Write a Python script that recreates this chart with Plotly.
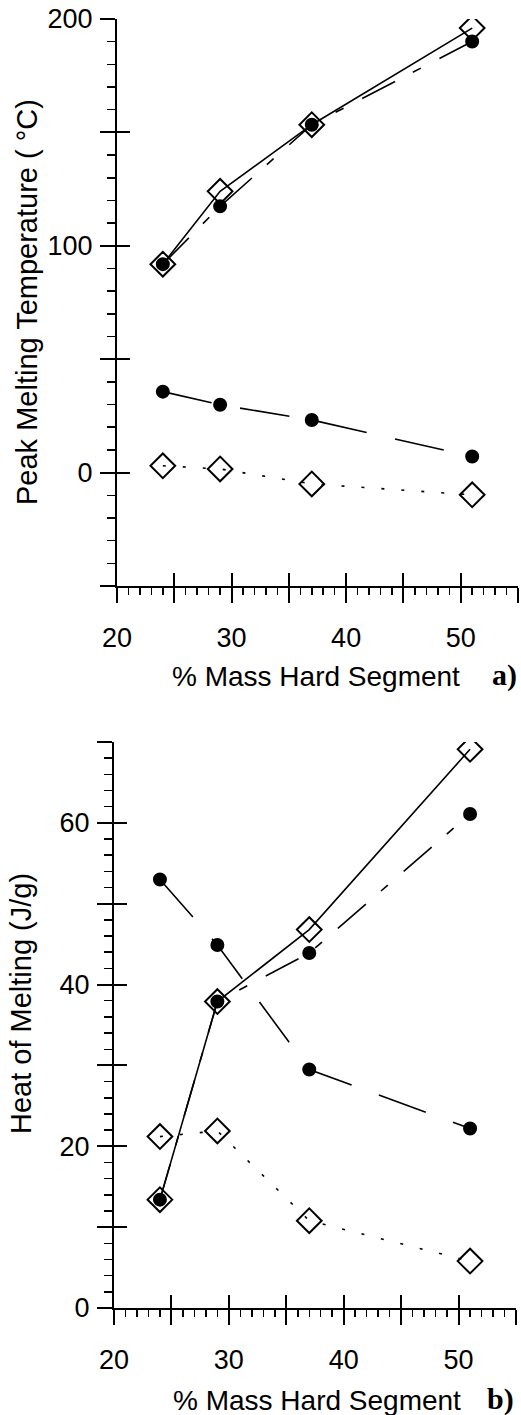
import plotly.graph_objects as go

# ---------------- data ----------------
mass_hs = [24, 29, 37, 51]

# panel a) Peak melting temperature (°C)
a_high_diamond = [91.9, 124.0, 153.4, 196.0]
a_high_circle = [91.9, 117.4, 153.4, 190.1]
a_low_circle = [35.7, 29.9, 23.2, 7.1]
a_low_diamond = [3.0, 1.6, -5.0, -9.8]

# panel b) Heat of melting (J/g)
b_rise_diamond = [13.4, 37.9, 46.8, 69.1]
b_rise_circle = [13.4, 37.9, 43.9, 61.1]
b_fall_circle = [53.0, 44.9, 29.5, 22.2]
b_low_diamond = [21.2, 21.9, 10.8, 5.8]

x_tickvals = [20, 25, 30, 35, 40, 45, 50, 55]
x_ticktext = ["20", "", "30", "", "40", "", "50", ""]
ya_tickvals = [-50, 0, 50, 100, 150, 200]
ya_ticktext = ["", "0", "", "100", "", "200"]
yb_tickvals = [0, 10, 20, 30, 40, 50, 60, 70]
yb_ticktext = ["0", "", "20", "", "40", "", "60", ""]

FONT = "Liberation Sans, Arial, Helvetica, sans-serif"
FS = 27
BLACK = "#000000"
LW = 1.6

DASHDOT = "37px,20px,9px,21px"
LONGDASH = "50px,29px"
DOTTED = "3px,17px"

fig = go.Figure()


def add(x, y, xa, ya, symbol, size, dash):
    fig.add_trace(go.Scatter(
        x=x, y=y, xaxis=xa, yaxis=ya, mode="lines+markers",
        line=dict(color=BLACK, width=LW, dash=dash),
        marker=dict(symbol=symbol, size=size, color=BLACK,
                    line=dict(color=BLACK, width=2)),
        showlegend=False, hoverinfo="skip"))


# panel a
add(mass_hs, a_high_circle, "x", "y", "circle", 12, DASHDOT)
add(mass_hs, a_high_diamond, "x", "y", "diamond-open", 19, "solid")
add(mass_hs, a_low_circle, "x", "y", "circle", 12, LONGDASH)
add(mass_hs, a_low_diamond, "x", "y", "diamond-open", 19, DOTTED)
# panel b
add(mass_hs, b_rise_circle, "x2", "y2", "circle", 12, DASHDOT)
add(mass_hs, b_rise_diamond, "x2", "y2", "diamond-open", 19, "solid")
add(mass_hs, b_fall_circle, "x2", "y2", "circle", 12, LONGDASH)
add(mass_hs, b_low_diamond, "x2", "y2", "diamond-open", 19, DOTTED)

# empty helper traces so the overlay (inside-tick) axes are drawn
for xa, ya in [("x3", "y"), ("x", "y3"), ("x4", "y2"), ("x2", "y4")]:
    fig.add_trace(go.Scatter(x=[None], y=[None], xaxis=xa, yaxis=ya,
                             mode="markers", showlegend=False,
                             hoverinfo="skip"))

W, H = 521, 1415
ML, MR, MT, MB = 114, 2, 19, 107
PW = W - ML - MR
PH = H - MT - MB


def px_x(p):
    return (p - ML) / PW


def px_y(p):
    return (H - MB - p) / PH


xa_dom = [px_x(117), px_x(518)]
xb_dom = [px_x(114), px_x(516)]
ya_dom = [px_y(586), 1.0]
yb_dom = [0.0, px_y(742)]

tickfont = dict(family=FONT, size=FS, color=BLACK)


def xaxis(dom, anchor):
    return dict(domain=dom, anchor=anchor, range=[20, 55],
                tickmode="array", tickvals=x_tickvals, ticktext=x_ticktext,
                ticks="outside", ticklen=15, tickwidth=2, tickcolor=BLACK,
                minor=dict(ticks="outside", ticklen=7, tickwidth=1.5,
                           tickcolor=BLACK, tick0=20, dtick=1),
                showline=True, linewidth=2, linecolor=BLACK,
                showgrid=False, zeroline=False, tickfont=tickfont,
                ticklabelstandoff=12, fixedrange=True)


def yaxis(dom, anchor, rng, tv, tt, mdt):
    return dict(domain=dom, anchor=anchor, range=rng,
                tickmode="array", tickvals=tv, ticktext=tt,
                ticks="outside", ticklen=15, tickwidth=2, tickcolor=BLACK,
                minor=dict(ticks="outside", ticklen=8, tickwidth=1.5,
                           tickcolor=BLACK, tick0=rng[0], dtick=mdt),
                showline=True, linewidth=2, linecolor=BLACK,
                showgrid=False, zeroline=False, tickfont=tickfont,
                ticklabelstandoff=2, fixedrange=True)


def inside_x(over, anchor):
    return dict(overlaying=over, anchor=anchor, side="bottom", range=[20, 55],
                tickmode="array", tickvals=x_tickvals, ticks="inside",
                ticklen=13, tickwidth=2, tickcolor=BLACK,
                showticklabels=False, showline=False, showgrid=False,
                zeroline=False, fixedrange=True)


def inside_y(over, anchor, rng, tv):
    return dict(overlaying=over, anchor=anchor, side="left", range=rng,
                tickmode="array", tickvals=tv, ticks="inside",
                ticklen=13, tickwidth=2, tickcolor=BLACK,
                showticklabels=False, showline=False, showgrid=False,
                zeroline=False, fixedrange=True)


fig.update_layout(
    width=W, height=H,
    margin=dict(l=ML, r=MR, t=MT, b=MB),
    paper_bgcolor="white", plot_bgcolor="white",
    font=dict(family=FONT, size=FS, color=BLACK),
    xaxis=xaxis(xa_dom, "y"),
    yaxis=yaxis(ya_dom, "x", [-50, 200], ya_tickvals, ya_ticktext, 10),
    xaxis2=xaxis(xb_dom, "y2"),
    yaxis2=yaxis(yb_dom, "x2", [0, 70], yb_tickvals, yb_ticktext, 2),
    xaxis3=inside_x("x", "y"),
    yaxis3=inside_y("y", "x", [-50, 200], ya_tickvals),
    xaxis4=inside_x("x2", "y2"),
    yaxis4=inside_y("y2", "x2", [0, 70], yb_tickvals),
)

ytitle_font = dict(family=FONT, size=29, color=BLACK)
xtitle_font = dict(family=FONT, size=28, color=BLACK)
ann_common = dict(xref="paper", yref="paper", showarrow=False)

fig.add_annotation(text="Peak Melting Temperature ( °C)", textangle=-90,
                   x=px_x(27), y=px_y(302), xanchor="center",
                   yanchor="middle", font=ytitle_font, **ann_common)
fig.add_annotation(text="Heat of Melting (J/g)", textangle=-90,
                   x=px_x(21), y=px_y(1004), xanchor="center",
                   yanchor="middle", font=ytitle_font, **ann_common)
fig.add_annotation(text="% Mass Hard Segment", x=px_x(315.5), y=px_y(676),
                   xanchor="center", yanchor="middle", font=xtitle_font,
                   **ann_common)
fig.add_annotation(text="% Mass Hard Segment", x=px_x(316.5), y=px_y(1400),
                   xanchor="center", yanchor="middle", font=xtitle_font,
                   **ann_common)

serif = dict(family="Liberation Serif, Times New Roman, serif", size=30,
             color=BLACK)
fig.add_annotation(text="<b>a)</b>", x=px_x(504), y=px_y(675),
                   xanchor="center", yanchor="middle", font=serif,
                   **ann_common)
fig.add_annotation(text="<b>b)</b>", x=px_x(500), y=px_y(1399),
                   xanchor="center", yanchor="middle", font=serif,
                   **ann_common)

fig.write_html(
    "out.html",
    config={"displayModeBar": False, "staticPlot": True},
    post_script="document.body.style.margin='0';"
                "document.body.style.padding='0';"
                "document.body.style.overflow='hidden';")
